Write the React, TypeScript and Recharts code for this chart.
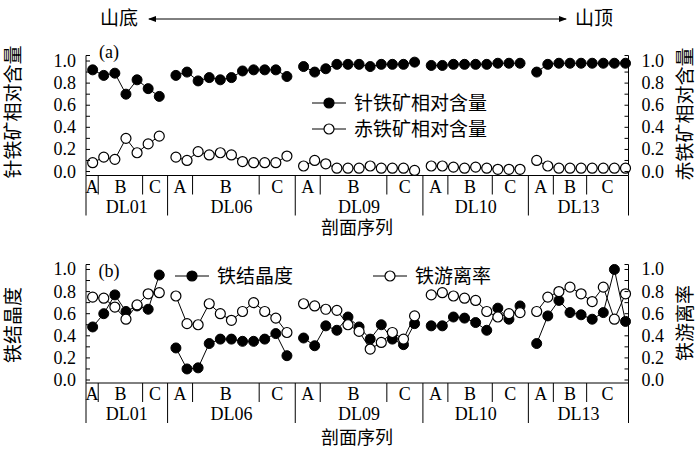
import React from 'react';
import { LineChart, Line, XAxis, YAxis, Legend } from 'recharts';

// sections: A / B / C point counts per profile
const groups = ['DL01', 'DL06', 'DL09', 'DL10', 'DL13'];
const sectionNames = ['A', 'B', 'C'];
const sectionCounts = [
  [1, 4, 2],
  [2, 6, 3],
  [2, 6, 3],
  [2, 4, 3],
  [2, 3, 4],
];

// (a) relative content
const goethite = [
  [0.92, 0.87, 0.89, 0.7, 0.83, 0.75, 0.68],
  [0.87, 0.9, 0.82, 0.85, 0.83, 0.85, 0.91, 0.92, 0.92, 0.92, 0.86],
  [0.95, 0.9, 0.93, 0.97, 0.97, 0.97, 0.95, 0.97, 0.97, 0.97, 0.99],
  [0.96, 0.96, 0.97, 0.97, 0.97, 0.97, 0.98, 0.98, 0.98],
  [0.9, 0.97, 0.98, 0.98, 0.98, 0.98, 0.98, 0.98, 0.98],
];
const hematite = [
  [0.08, 0.13, 0.11, 0.3, 0.17, 0.25, 0.32],
  [0.13, 0.1, 0.18, 0.15, 0.17, 0.15, 0.09, 0.08, 0.08, 0.08, 0.14],
  [0.05, 0.1, 0.07, 0.03, 0.03, 0.03, 0.05, 0.03, 0.03, 0.03, 0.01],
  [0.05, 0.05, 0.04, 0.03, 0.04, 0.03, 0.02, 0.02, 0.02],
  [0.1, 0.05, 0.03, 0.03, 0.03, 0.03, 0.03, 0.03, 0.03],
];

// (b) crystallinity / free iron ratio
const crystallinity = [
  [0.48, 0.6, 0.77, 0.62, 0.67, 0.64, 0.95],
  [0.29, 0.1, 0.11, 0.33, 0.37, 0.37, 0.35, 0.35, 0.37, 0.42, 0.22],
  [0.38, 0.31, 0.49, 0.45, 0.57, 0.48, 0.37, 0.5, 0.37, 0.32, 0.51],
  [0.49, 0.49, 0.57, 0.56, 0.52, 0.45, 0.65, 0.55, 0.67],
  [0.33, 0.58, 0.72, 0.61, 0.59, 0.55, 0.61, 1.0, 0.53],
];
const freeRatio = [
  [0.75, 0.74, 0.66, 0.55, 0.68, 0.78, 0.79],
  [0.76, 0.51, 0.5, 0.69, 0.6, 0.54, 0.62, 0.7, 0.62, 0.56, 0.43],
  [0.69, 0.67, 0.64, 0.63, 0.5, 0.44, 0.28, 0.34, 0.43, 0.37, 0.58],
  [0.77, 0.79, 0.76, 0.74, 0.72, 0.62, 0.57, 0.6, 0.61],
  [0.62, 0.75, 0.8, 0.84, 0.78, 0.71, 0.84, 0.55, 0.78],
];

const yTickValues = [0, 0.1, 0.2, 0.3, 0.4, 0.5, 0.6, 0.7, 0.8, 0.9, 1.0];

const FONT = "'Liberation Serif', 'Times New Roman', 'Noto Sans CJK SC', serif";
const GAP = 1.5;
const X_MIN = -0.6;
const X_MAX = 48.27;

// x position of each group start
const counts = sectionCounts.map((s) => s.reduce((a, b) => a + b, 0));
const starts: number[] = [];
{
  let c = 0;
  counts.forEach((n) => {
    starts.push(c);
    c += n - 1 + GAP;
  });
}
const ends = starts.map((s, i) => s + counts[i] - 1);
const bounds = groups.map((_, i) => [
  i === 0 ? X_MIN : (ends[i - 1] + starts[i]) / 2,
  i === groups.length - 1 ? X_MAX : (ends[i] + starts[i + 1]) / 2,
]);

function buildRows(a: number[][], b: number[][]) {
  const rows: any[] = [];
  groups.forEach((_, i) => {
    a[i].forEach((v, k) => rows.push({ x: starts[i] + k, a: v, b: b[i][k] }));
    if (i < groups.length - 1) rows.push({ x: bounds[i][1], a: null, b: null });
  });
  return rows;
}

type TickInfo = { pos: number; kind: string; text?: string };
const tickInfo: TickInfo[] = [];
groups.forEach((g, i) => {
  const [l, r] = bounds[i];
  if (i === 0) tickInfo.push({ pos: l, kind: 'grp' });
  tickInfo.push({ pos: r, kind: 'grp' });
  const s1 = starts[i] + sectionCounts[i][0] - 0.5;
  const s2 = s1 + sectionCounts[i][1];
  tickInfo.push({ pos: s1, kind: 'sub' }, { pos: s2, kind: 'sub' });
  const edges = [l, s1, s2, r];
  sectionNames.forEach((n, k) =>
    tickInfo.push({ pos: (edges[k] + edges[k + 1]) / 2, kind: 'letter', text: n })
  );
  tickInfo.push({ pos: (l + r) / 2 + 0.0001, kind: 'name', text: g });
});

const XTick = (props: any) => {
  const { x, y, payload } = props;
  const t = tickInfo.find((d) => Math.abs(d.pos - payload.value) < 1e-6);
  if (!t) return <g />;
  if (t.kind === 'sub') return <line x1={x} x2={x} y1={y} y2={y + 19} stroke="#000" />;
  if (t.kind === 'grp') return <line x1={x} x2={x} y1={y} y2={y + 40} stroke="#000" />;
  return (
    <text
      x={x}
      y={y + (t.kind === 'letter' ? 11 : 31)}
      textAnchor="middle"
      dominantBaseline="central"
      fontSize={18}
      fontFamily={FONT}
      fill="#000"
    >
      {t.text}
    </text>
  );
};

const makeYTick = (side: 'left' | 'right') => (props: any) => {
  const { x, y, payload } = props;
  const v = payload.value;
  const major = Math.round(v * 100) % 20 === 0 && v <= 1.0001;
  const dir = side === 'left' ? 1 : -1;
  return (
    <g>
      <line x1={x} x2={x + dir * 4} y1={y} y2={y} stroke="#000" />
      {major && (
        <text
          x={side === 'left' ? x - 10 : x + 13}
          y={y}
          textAnchor={side === 'left' ? 'end' : 'start'}
          dominantBaseline="central"
          fontSize={18}
          fontFamily={FONT}
          fill="#000"
        >
          {v.toFixed(1)}
        </text>
      )}
    </g>
  );
};

const LegendBox = ({ payload, vertical }: any) => {
  const items = [...(payload || [])].sort((p: any, q: any) => String(p.dataKey).localeCompare(String(q.dataKey)));
  return (
    <svg width={vertical ? 200 : 330} height={vertical ? 56 : 24} style={{ overflow: 'visible' }}>
      {items.map((e: any, i: number) => {
        const ox = vertical ? 0 : i * 198;
        const cy = vertical ? 13 + i * 26 : 12;
        const filled = e.dataKey === 'a';
        return (
          <g key={i}>
            <line x1={ox} x2={ox + 34} y1={cy} y2={cy} stroke="#000" />
            <circle cx={ox + 17} cy={cy} r={5} fill={filled ? '#000' : '#fff'} stroke="#000" strokeWidth={1.2} />
            <text x={ox + 42} y={cy} dominantBaseline="central" fontSize={19} fontFamily={FONT} fill="#000">
              {e.value}
            </text>
          </g>
        );
      })}
    </svg>
  );
};

const filledDot = { r: 5, fill: '#000', stroke: '#000', strokeWidth: 1 };
const openDot = { r: 5, fill: '#fff', stroke: '#000', strokeWidth: 1.2 };

const vLabel = (text: string, cx: number, cy: number) => (
  <div
    style={{
      position: 'absolute',
      left: cx - 100,
      top: cy - 12,
      width: 200,
      height: 24,
      lineHeight: '24px',
      textAlign: 'center',
      transform: 'rotate(-90deg)',
      fontSize: 19,
      fontFamily: FONT,
      whiteSpace: 'nowrap',
    }}
  >
    {text}
  </div>
);

const plainText = (text: string, cx: number, cy: number, size = 18) => (
  <div
    style={{
      position: 'absolute',
      left: cx - 100,
      top: cy - 12,
      width: 200,
      height: 24,
      lineHeight: '24px',
      textAlign: 'center',
      fontSize: size,
      fontFamily: FONT,
      whiteSpace: 'nowrap',
    }}
  >
    {text}
  </div>
);

export default function App() {
  const topRows = buildRows(goethite, hematite);
  const bottomRows = buildRows(crystallinity, freeRatio);
  const xTicks = tickInfo.map((t) => t.pos);

  return (
    <div style={{ position: 'absolute', left: 0, top: 0, width: 697, height: 449, background: '#fff', fontFamily: FONT }}>
      <svg width={697} height={40} style={{ position: 'absolute', left: 0, top: 0 }}>
        <defs>
          <marker id="ah" markerWidth="8" markerHeight="6" refX="7" refY="3" orient="auto-start-reverse">
            <path d="M0,0 L8,3 L0,6 z" fill="#000" />
          </marker>
        </defs>
        <line x1={149} x2={566} y1={19} y2={19} stroke="#000" strokeWidth={1} markerStart="url(#ah)" markerEnd="url(#ah)" />
      </svg>
      {plainText('山底', 119, 19, 19)}
      {plainText('山顶', 594, 19, 19)}

      <div style={{ position: 'absolute', left: 0, top: 0 }}>
        <LineChart width={697} height={230} data={topRows} margin={{ top: 55.5, right: 28.5, bottom: 0, left: 46 }}>
          <XAxis
            dataKey="x"
            type="number"
            domain={[X_MIN, X_MAX]}
            ticks={xTicks}
            interval={0}
            tick={XTick}
            tickLine={false}
            tickSize={0}
            tickMargin={0}
            height={54.5}
            axisLine={{ stroke: '#000' }}
          />
          <YAxis
            yAxisId="l"
            type="number"
            domain={[-0.036, 1.05]}
            ticks={[...yTickValues, 1.05]}
            interval={0}
            width={40}
            tick={makeYTick('left')}
            tickLine={false}
            tickSize={0}
            tickMargin={0}
            axisLine={{ stroke: '#000' }}
          />
          <YAxis
            yAxisId="r"
            orientation="right"
            type="number"
            domain={[-0.036, 1.05]}
            ticks={[...yTickValues, 1.05]}
            interval={0}
            width={40}
            tick={makeYTick('right')}
            tickLine={false}
            tickSize={0}
            tickMargin={0}
            axisLine={{ stroke: '#000' }}
          />
          <Legend
            layout="vertical"
            align="center"
            verticalAlign="middle"
            wrapperStyle={{ left: 312, top: 90, width: 200 }}
            content={(p: any) => <LegendBox payload={p.payload} vertical />}
          />
          <Line yAxisId="l" dataKey="a" name="针铁矿相对含量" stroke="#000" strokeWidth={1} dot={filledDot} activeDot={false} isAnimationActive={false} />
          <Line yAxisId="r" dataKey="b" name="赤铁矿相对含量" stroke="#000" strokeWidth={1} dot={openDot} activeDot={false} isAnimationActive={false} />
        </LineChart>
      </div>
      {plainText('(a)', 109, 52)}
      {plainText('剖面序列', 357, 228)}
      {vLabel('针铁矿相对含量', 14, 112)}
      {vLabel('赤铁矿相对含量', 686, 114)}

      <div style={{ position: 'absolute', left: 0, top: 240 }}>
        <LineChart width={697} height={209} data={bottomRows} margin={{ top: 24.5, right: 28.5, bottom: 0, left: 46 }}>
          <XAxis
            dataKey="x"
            type="number"
            domain={[X_MIN, X_MAX]}
            ticks={xTicks}
            interval={0}
            tick={XTick}
            tickLine={false}
            tickSize={0}
            tickMargin={0}
            height={66}
            axisLine={{ stroke: '#000' }}
          />
          <YAxis
            yAxisId="l"
            type="number"
            domain={[-0.027, 1.045]}
            ticks={[...yTickValues, 1.045]}
            interval={0}
            width={40}
            tick={makeYTick('left')}
            tickLine={false}
            tickSize={0}
            tickMargin={0}
            axisLine={{ stroke: '#000' }}
          />
          <YAxis
            yAxisId="r"
            orientation="right"
            type="number"
            domain={[-0.027, 1.045]}
            ticks={[...yTickValues, 1.045]}
            interval={0}
            width={40}
            tick={makeYTick('right')}
            tickLine={false}
            tickSize={0}
            tickMargin={0}
            axisLine={{ stroke: '#000' }}
          />
          <Legend
            layout="vertical"
            align="center"
            verticalAlign="middle"
            wrapperStyle={{ left: 175, top: 24, width: 330 }}
            content={(p: any) => <LegendBox payload={p.payload} />}
          />
          <Line yAxisId="l" dataKey="a" name="铁结晶度" stroke="#000" strokeWidth={1} dot={filledDot} activeDot={false} isAnimationActive={false} />
          <Line yAxisId="r" dataKey="b" name="铁游离率" stroke="#000" strokeWidth={1} dot={openDot} activeDot={false} isAnimationActive={false} />
        </LineChart>
      </div>
      {plainText('(b)', 109, 271)}
      {plainText('剖面序列', 357, 438)}
      {vLabel('铁结晶度', 14, 325)}
      {vLabel('铁游离率', 686, 323)}
    </div>
  );
}
